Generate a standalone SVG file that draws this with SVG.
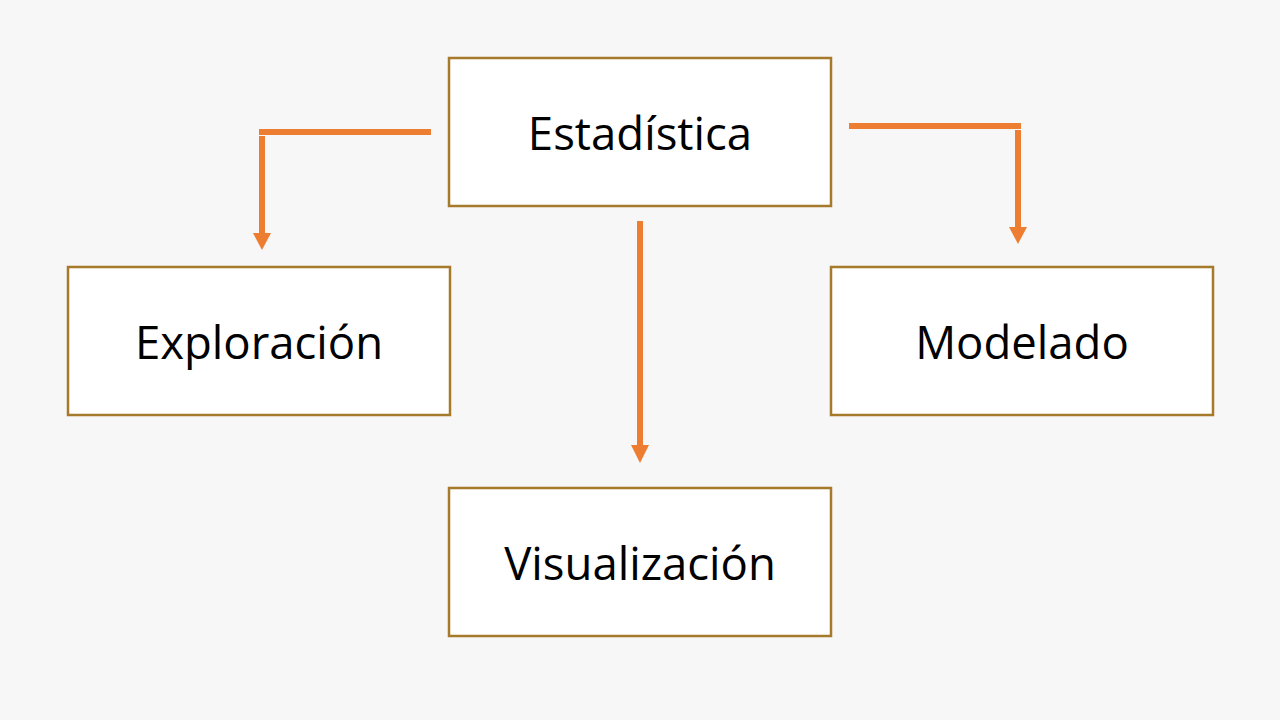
<svg xmlns="http://www.w3.org/2000/svg" width="1280" height="720" viewBox="0 0 1280 720">
<style>
.box{fill:#ffffff;stroke:#A67A2B;stroke-width:2.5}
.lbl{font-family:"Open Sans","Liberation Sans",sans-serif;font-size:45.5px;fill:#000000;text-anchor:middle}
.con{stroke:#ED7D31;stroke-width:6;fill:none}
.head{fill:#ED7D31}
</style>
<rect width="1280" height="720" fill="#F7F7F7"/>
<g id="estadistica"><rect class="box" x="449" y="58" width="382" height="148"/><text class="lbl" x="640" y="150">Estadística</text></g>
<g id="exploracion"><rect class="box" x="68" y="267" width="382" height="148"/><text class="lbl" x="259" y="359">Exploración</text></g>
<g id="modelado"><rect class="box" x="831" y="267" width="382" height="148"/><text class="lbl" x="1022" y="359">Modelado</text></g>
<g id="visualizacion"><rect class="box" x="449" y="488" width="382" height="148"/><text class="lbl" x="640" y="580">Visualización</text></g>
<g id="connectors">
<path class="con" d="M431 132 H259"/>
<path class="con" d="M262 136 V234"/>
<polygon class="head" points="253,233 271,233 262,250"/>
<path class="con" d="M849 126 H1021"/>
<path class="con" d="M1018 130 V228"/>
<polygon class="head" points="1009,227 1027,227 1018,244"/>
<path class="con" d="M640 221 V447"/>
<polygon class="head" points="631,445 649,445 640,463"/>
</g>
</svg>
